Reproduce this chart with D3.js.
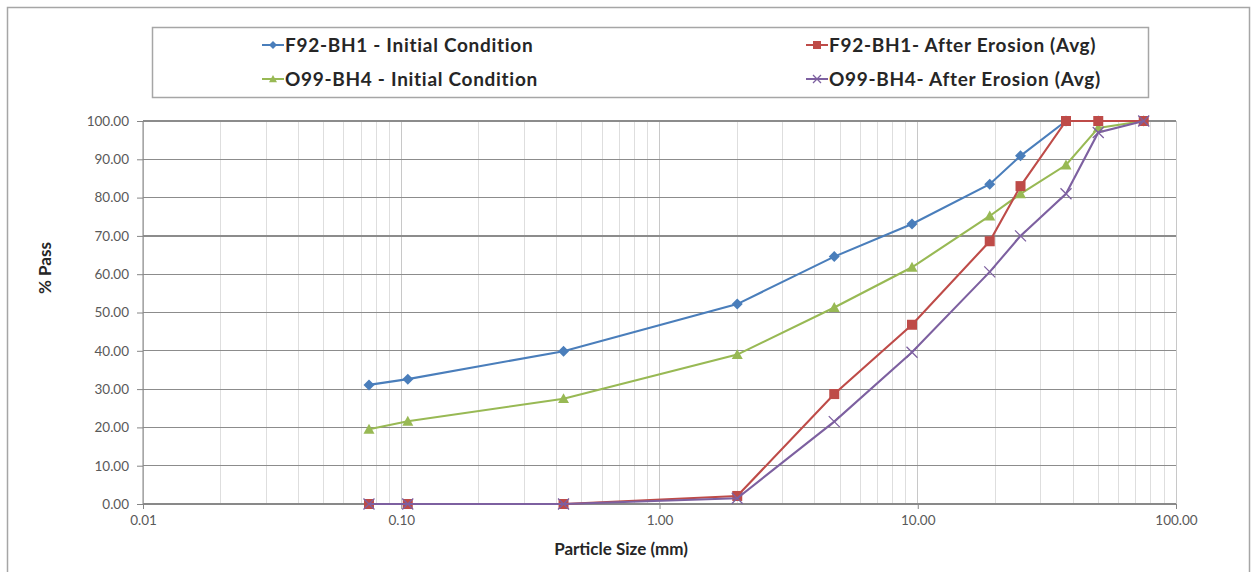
<!DOCTYPE html>
<html><head><meta charset="utf-8">
<script src="https://cdn.jsdelivr.net/npm/d3@7"></script>
<style>html,body{margin:0;padding:0;background:#fff;}svg{display:block;}</style>
</head><body>
<svg id="c" width="1260" height="572"></svg>
<script>
const sizes = [0.075, 0.106, 0.425, 2.0, 4.75, 9.5, 19.0, 25.0, 37.5, 50.0, 75.0];
const f92Initial = [31.1, 32.6, 39.9, 52.2, 64.6, 73.1, 83.5, 90.9, 100, 100, 100];
const f92After = [0, 0, 0, 2.1, 28.7, 46.8, 68.6, 83.0, 100, 100, 100];
const o99Initial = [19.5, 21.6, 27.5, 39.0, 51.3, 61.8, 75.2, 81.0, 88.5, 98.2, 100];
const o99After = [0, 0, 0, 1.5, 21.5, 39.6, 60.6, 70.0, 81.0, 97.0, 100];
const seriesNames = ["F92-BH1 - Initial Condition", "F92-BH1- After Erosion (Avg)", "O99-BH4 - Initial Condition", "O99-BH4- After Erosion (Avg)"];
const yTicks = [0,10,20,30,40,50,60,70,80,90,100];
const xTicks = [0.01, 0.1, 1, 10, 100];

const svg = d3.select("#c");
const font = "Lato, 'Open Sans', sans-serif";
const x = d3.scaleLog().domain([0.01, 100]).range([143, 1176]);
const y = d3.scaleLinear().domain([0, 100]).range([504, 121]);

// outer frame
svg.append("rect").attr("x",7.5).attr("y",7.5).attr("width",1242).attr("height",580)
  .attr("fill","#fff").attr("stroke","#a6a6a6").attr("stroke-width",1.5);

// minor vertical gridlines
const minor = [];
for (let e = -2; e < 2; e++) for (let m = 1; m <= 9; m++) minor.push(m * Math.pow(10, e));
minor.push(100);
svg.append("g").selectAll("line").data(minor).join("line")
  .attr("x1", d => x(d)).attr("x2", d => x(d)).attr("y1", y(100)).attr("y2", y(0))
  .attr("stroke", d => (Math.abs(Math.log10(d) - Math.round(Math.log10(d))) < 1e-9) ? "#c8c8c8" : "#dedede")
  .attr("stroke-width", 1).attr("shape-rendering","crispEdges");

// horizontal gridlines
svg.append("g").selectAll("line").data(yTicks).join("line")
  .attr("x1", x(0.01)).attr("x2", x(100)).attr("y1", d => y(d)).attr("y2", d => y(d))
  .attr("stroke", "#8c8c8c").attr("stroke-width", 1.2).attr("shape-rendering","crispEdges");

// axes
const yAxis = d3.axisLeft(y).tickValues(yTicks).tickFormat(d3.format(".2f")).tickSize(6).tickPadding(8);
const gy = svg.append("g").attr("transform", `translate(${x(0.01)},0)`).call(yAxis);
gy.selectAll("text").attr("font-family", font).attr("font-size", 13.5).attr("fill", "#595959");
gy.selectAll("line, path").attr("stroke", "#868686");
gy.select(".domain").attr("d", `M0,${y(0)}V${y(100)}`);

const xAxis = d3.axisBottom(x).tickValues(xTicks).tickFormat(d3.format(".2f")).tickSize(5).tickPadding(6);
const gx = svg.append("g").attr("transform", `translate(0,${y(0)})`).call(xAxis);
gx.selectAll("text").attr("font-family", font).attr("font-size", 13.5).attr("fill", "#595959");
gx.selectAll("line, path").attr("stroke", "#868686");
gx.select(".domain").attr("d", `M${x(0.01)},0H${x(100)}`);

// axis titles
svg.append("text").attr("x", 621).attr("y", 555).attr("text-anchor","middle")
  .attr("font-family", font).attr("font-weight","bold").attr("font-size", 17).attr("fill","#262626")
  .text("Particle Size (mm)");
svg.append("text").attr("transform","translate(51,268) rotate(-90)").attr("text-anchor","middle")
  .attr("font-family", font).attr("font-weight","bold").attr("font-size", 17).attr("fill","#262626")
  .text("% Pass");

// series
const series = [
  {name: seriesNames[0], vals: f92Initial, color: "#4a7ebb", marker: "diamond"},
  {name: seriesNames[1], vals: f92After, color: "#be4b48", marker: "square"},
  {name: seriesNames[2], vals: o99Initial, color: "#98b954", marker: "triangle"},
  {name: seriesNames[3], vals: o99After, color: "#7d60a0", marker: "x"}
];
const line = d3.line().x(d => x(d[0])).y(d => y(d[1]));
function drawMarker(g, type, color, cx, cy, s) {
  if (type === "diamond") {
    g.append("path").attr("d", `M${cx},${cy-s}L${cx+s},${cy}L${cx},${cy+s}L${cx-s},${cy}Z`).attr("fill", color);
  } else if (type === "square") {
    g.append("rect").attr("x", cx - s).attr("y", cy - s).attr("width", 2*s).attr("height", 2*s).attr("fill", color);
  } else if (type === "triangle") {
    g.append("path").attr("d", `M${cx},${cy-s}L${cx+s},${cy+s*0.8}L${cx-s},${cy+s*0.8}Z`).attr("fill", color);
  } else {
    g.append("path").attr("d", `M${cx-s},${cy-s}L${cx+s},${cy+s}M${cx-s},${cy+s}L${cx+s},${cy-s}`)
      .attr("stroke", color).attr("stroke-width", 1.3).attr("fill","none");
  }
}
const order = [0, 2, 1, 3];
order.forEach(i => {
  const s = series[i];
  const pts = sizes.map((v, k) => [v, s.vals[k]]);
  const g = svg.append("g");
  g.append("path").attr("d", line(pts)).attr("fill","none").attr("stroke", s.color).attr("stroke-width", 2.1);
  pts.forEach(p => drawMarker(g, s.marker, s.color, x(p[0]), y(p[1]), s.marker === "square" ? 5 : 5.5));
});

// legend
svg.append("rect").attr("x",152.5).attr("y",27.5).attr("width",996).attr("height",70)
  .attr("fill","#fff").attr("stroke","#a6a6a6").attr("stroke-width",1.5);
const legPos = [[262, 45], [806, 45], [262, 79], [806, 79]];
series.forEach((s, i) => {
  const [lx, ly] = legPos[i];
  const g = svg.append("g");
  g.append("line").attr("x1", lx).attr("x2", lx + 22).attr("y1", ly).attr("y2", ly)
    .attr("stroke", s.color).attr("stroke-width", 2);
  drawMarker(g, s.marker, s.color, lx + 11, ly, 4);
  g.append("text").attr("x", lx + 23).attr("y", ly + 6.5).attr("font-family", font)
    .attr("font-weight","bold").attr("font-size", 19).attr("letter-spacing", 0.7)
    .attr("fill","#262626").text(s.name);
});
</script>
</body></html>
